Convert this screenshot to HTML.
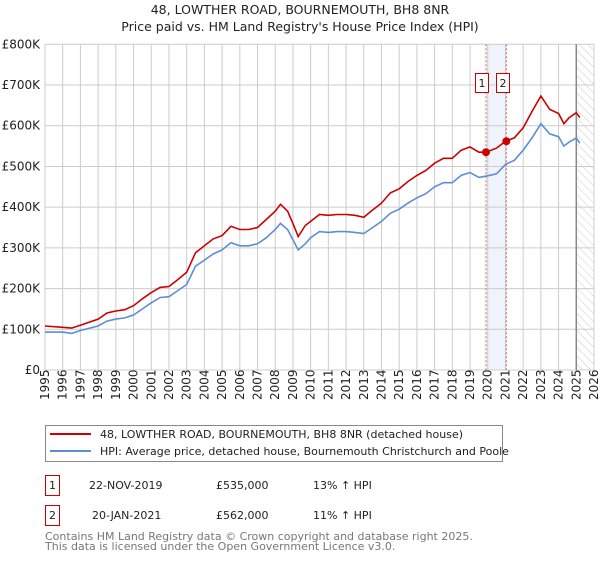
<!DOCTYPE html>
<html><head><meta charset="utf-8"><style>
body{margin:0;background:#fff;font-family:"Liberation Sans","DejaVu Sans",sans-serif;}
svg text{font-family:"DejaVu Sans","Liberation Sans",sans-serif;}
</style></head><body>
<svg id="c" width="600" height="560" xmlns="http://www.w3.org/2000/svg">
<defs><pattern id="hatch" width="6" height="6" patternUnits="userSpaceOnUse" patternTransform="rotate(-45)"><line x1="0" y1="0" x2="0" y2="6" stroke="#ccc" stroke-width="1"/></pattern></defs>
<text x="300" y="14" text-anchor="middle" font-size="12.5" fill="#222">48, LOWTHER ROAD, BOURNEMOUTH, BH8 8NR</text>
<text x="300" y="31" text-anchor="middle" font-size="12.5" fill="#222">Price paid vs. HM Land Registry's House Price Index (HPI)</text>
<g id="plot"></g>
<rect x="45.5" y="425.5" width="457" height="36" fill="#fff" stroke="#888"/>
<line x1="50" y1="434" x2="91" y2="434" stroke="#cc0000" stroke-width="2"/>
<text x="100" y="438" font-size="11" fill="#222">48, LOWTHER ROAD, BOURNEMOUTH, BH8 8NR (detached house)</text>
<line x1="50" y1="451" x2="91" y2="451" stroke="#5b8fd4" stroke-width="2"/>
<text x="100" y="455" font-size="11" fill="#222">HPI: Average price, detached house, Bournemouth Christchurch and Poole</text>
<g>
<rect x="45.5" y="475.5" width="14" height="20" fill="#fff" stroke="#cc0000"/>
<text x="52.5" y="489" text-anchor="middle" font-size="11" fill="#222">1</text>
<text x="89" y="489" font-size="11" fill="#222">22-NOV-2019</text>
<text x="216" y="489" font-size="11" fill="#222">£535,000</text>
<text x="313" y="489" font-size="11" fill="#222">13% ↑ HPI</text></g>
<g>
<rect x="45.5" y="505.5" width="14" height="20" fill="#fff" stroke="#cc0000"/>
<text x="52.5" y="519" text-anchor="middle" font-size="11" fill="#222">2</text>
<text x="92" y="519" font-size="11" fill="#222">20-JAN-2021</text>
<text x="216" y="519" font-size="11" fill="#222">£562,000</text>
<text x="313" y="519" font-size="11" fill="#222">11% ↑ HPI</text></g>
<text x="45" y="540" font-size="11" fill="#777">Contains HM Land Registry data © Crown copyright and database right 2025.</text>
<text x="45" y="550" font-size="11" fill="#777">This data is licensed under the Open Government Licence v3.0.</text>
</svg>
<script>
const yTicks=[0,100,200,300,400,500,600,700,800];
const yearTicks=[1995,1996,1997,1998,1999,2000,2001,2002,2003,2004,2005,2006,2007,2008,2009,2010,2011,2012,2013,2014,2015,2016,2017,2018,2019,2020,2021,2022,2023,2024,2025,2026];
const hpiT=[1995,1996,1996.5,1997,1998,1998.5,1999,1999.5,2000,2000.5,2001,2001.5,2002,2002.5,2003,2003.5,2004,2004.5,2005,2005.5,2006,2006.5,2007,2007.5,2008,2008.3,2008.7,2009,2009.3,2009.7,2010,2010.5,2011,2011.5,2012,2012.5,2013,2013.5,2014,2014.5,2015,2015.5,2016,2016.5,2017,2017.5,2018,2018.5,2019,2019.5,2020,2020.5,2021,2021.5,2022,2022.5,2023,2023.5,2024,2024.3,2024.6,2025,2025.2];
const hpiV=[93,93,90,97,108,120,125,128,135,150,165,178,180,195,210,255,270,285,295,313,305,305,310,325,345,360,345,320,295,310,325,340,338,340,340,338,335,350,365,385,395,410,423,433,450,460,460,478,485,473,477,482,505,515,540,570,605,580,573,550,560,570,557];
const propT=[1995,1996,1996.5,1997,1998,1998.5,1999,1999.5,2000,2000.5,2001,2001.5,2002,2002.5,2003,2003.5,2004,2004.5,2005,2005.5,2006,2006.5,2007,2007.5,2008,2008.3,2008.7,2009,2009.3,2009.7,2010,2010.5,2011,2011.5,2012,2012.5,2013,2013.5,2014,2014.5,2015,2015.5,2016,2016.5,2017,2017.5,2018,2018.5,2019,2019.5,2019.9,2020.5,2021,2021.5,2022,2022.5,2023,2023.5,2024,2024.3,2024.6,2025,2025.2];
const propV=[108,105,103,110,125,140,145,148,158,175,190,203,205,222,240,288,305,322,330,353,345,345,350,370,390,407,390,360,328,355,365,382,380,382,382,380,375,393,410,435,445,463,478,490,508,520,520,540,548,535,535,545,562,570,595,635,673,640,630,605,620,632,620];
const saleT=[2019.9,2021.05];
const saleV=[535,562];
const saleLabels=["1","2"];
const X0=45,X1=594,Y0=370,Y1=44.3;
const x=t=>X0+(t-1995)/(2026-1995)*(X1-X0);
const y=v=>Y0-v/800*(Y0-Y1);
const NS="http://www.w3.org/2000/svg";
const g=document.getElementById('plot');
function mk(tag,attrs,parent){const e=document.createElementNS(NS,tag);for(const k in attrs)e.setAttribute(k,attrs[k]);(parent||g).appendChild(e);return e;}
let band=mk('rect',{x:x(saleT[0]),y:Y1,width:x(saleT[1])-x(saleT[0]),height:Y0-Y1,fill:'#eef3fc'});


let hat=mk('rect',{x:x(2025.0),y:Y1,width:X1-x(2025.0),height:Y0-Y1,fill:'url(#hatch)'});


yearTicks.forEach(t=>{const l=mk('line',{x1:x(t),x2:x(t),y1:Y1,y2:Y0,stroke:'#ccc','stroke-width':1});


const tx=mk('text',{x:0,y:0,'font-size':12,fill:'#222',transform:`translate(${x(t)+4},${Y0+30}) rotate(-90)`});tx.textContent=t;

});
yTicks.forEach(v=>{const l=mk('line',{x1:X0,x2:X1,y1:y(v),y2:y(v),stroke:'#ccc','stroke-width':1});


const tx=mk('text',{x:X0-5,y:y(v)+4,'font-size':12,fill:'#222','text-anchor':'end'});tx.textContent=v===0?'£0':'£'+v+'K';

});
let nowl=mk('line',{x1:x(2025.0),x2:x(2025.0),y1:Y1,y2:Y0,stroke:'#888','stroke-width':1.5});


saleT.forEach((t,i)=>{const l=mk('line',{x1:x(t),x2:x(t),y1:Y1,y2:Y0,stroke:'#e06666','stroke-width':1,'stroke-dasharray':'2,2'});

});
const pts=(T,V)=>T.map((t,i)=>x(t).toFixed(1)+','+y(V[i]).toFixed(1)).join(' ');
let hl=mk('polyline',{points:pts(hpiT,hpiV),fill:'none',stroke:'#5b8fd4','stroke-width':1.6});


let pl=mk('polyline',{points:pts(propT,propV),fill:'none',stroke:'#cc0000','stroke-width':1.6});


saleT.forEach((t,i)=>{const c=mk('circle',{cx:x(t),cy:y(saleV[i]),r:4,fill:'#cc0000'});


const bx=Math.round(x(t)-10.5);
const r=mk('rect',{x:bx+0.5,y:73.5,width:13,height:19,fill:'#fff',stroke:'#cc0000'});


const tx=mk('text',{x:bx+7,y:87,'font-size':11,fill:'#222','text-anchor':'middle'});tx.textContent=saleLabels[i];

});
</script>
</body></html>
